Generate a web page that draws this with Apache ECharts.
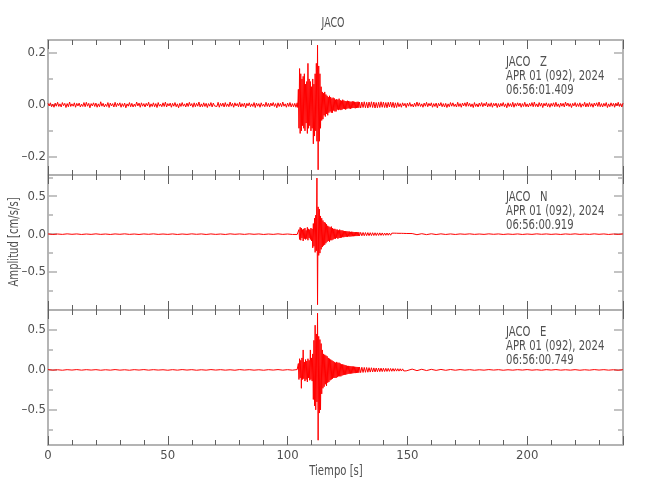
<!DOCTYPE html>
<html><head><meta charset="utf-8">
<script src="https://cdn.jsdelivr.net/npm/echarts@6/dist/echarts.min.js"></script>
<style>html,body{margin:0;padding:0;background:#fff}#c{width:650px;height:500px}</style>
</head><body><div id="c"></div>
<script>
// ---- text ----
const chartTitle = 'JACO';
const station = 'JACO';
const components = ['Z', 'N', 'E'];
const dateLabel = 'APR 01 (092), 2024';
const startTimes = ['06:56:01.409', '06:56:00.919', '06:56:00.749'];
const xName = 'Tiempo [s]';
const yName = 'Amplitud [cm/s/s]';

// ---- axes ----
const xRange = [0, 240];
const xMajorTicks = [0, 50, 100, 150, 200];
const yRangeZ = [-0.27, 0.25];
const yRangeN = [-1.0, 0.78];
const yRangeE = [-0.94, 0.75];
const yMajorZ = [-0.2, 0, 0.2];
const yMajorN = [-0.5, 0, 0.5];
const yMajorE = [-0.5, 0, 0.5];
const yMinorZ = [-0.1, 0.1];
const yMinorN = [-0.75, -0.25, 0.25, 0.75];
const yMinorE = [-0.75, -0.25, 0.25];

// ---- waveform samples (segment start [s], step [s]) ----
// Z component
const zPreStart = 0, zPreStep = 0.5;
const zPre = [0.006,-0.004,0.008,-0.007,0.003,-0.009,0.007,-0.005,0.010,-0.006,0.004,-0.008,0.009,-0.003,0.006,-0.010,
0.005,-0.007,0.011,-0.006,0.004,-0.005,0.008,-0.009,0.006,-0.004,0.007,-0.008,0.003,-0.006,0.009,-0.007,
0.010,-0.005,0.006,-0.011,0.005,-0.004,0.008,-0.006,0.007,-0.009,0.004,-0.007,0.012,-0.005,0.006,-0.008,
0.003,-0.006,0.009,-0.010,0.007,-0.004,0.005,-0.008,0.010,-0.007,0.006,-0.003,0.008,-0.009,0.005,-0.006,
0.007,-0.011,0.004,-0.005,0.009,-0.007,0.006,-0.008,0.003,-0.006,0.011,-0.004,0.007,-0.009,0.008,-0.005,
0.005,-0.008,0.006,-0.004,0.010,-0.009,0.004,-0.006,0.008,-0.007,0.005,-0.010,0.009,-0.005,0.003,-0.007,
0.008,-0.006,0.011,-0.008,0.005,-0.004,0.007,-0.009,0.006,-0.005,0.009,-0.007,0.004,-0.011,0.006,-0.006,
0.009,-0.005,0.004,-0.008,0.007,-0.006,0.010,-0.004,0.005,-0.009,0.008,-0.007,0.006,-0.005,0.011,-0.008,
0.004,-0.007,0.008,-0.006,0.006,-0.010,0.005,-0.005,0.009,-0.008,0.007,-0.004,0.003,-0.006,0.010,-0.009,
0.006,-0.005,0.007,-0.008,0.009,-0.006,0.004,-0.007,0.011,-0.005,0.006,-0.009,0.008,-0.004,0.005,-0.007,
0.010,-0.008,0.005,-0.006,0.007,-0.011,0.006,-0.004,0.008,-0.007,0.004,-0.006,0.009,-0.010,0.007,-0.005,
0.005,-0.009,0.008,-0.005,0.003,-0.007,0.010,-0.006,0.006,-0.008,0.007,-0.004,0.009,-0.006,0.005,-0.011,
0.008,-0.006,0.006,-0.007,0.011,-0.005,0.004,-0.009,0.007,-0.006,0.009,-0.008,0.005,-0.007,0.006,-0.009];
const zEventStart = 104, zEventStep = 0.25;
const zEvent = [0.008,-0.01,0.06,-0.09,0.14,-0.11,0.12,-0.10,0.10,-0.08,
0.11,-0.09,0.12,-0.10,0.08,-0.07,0.09,-0.11,0.16,-0.09,
0.10,-0.08,0.09,-0.10,0.07,-0.09,0.10,-0.15,0.08,-0.12,
0.12,-0.10,0.16,-0.14,0.23,-0.25,0.15,-0.14,0.12,-0.09,
0.07,-0.06,0.05,-0.055,0.045,-0.04,0.05,-0.045,0.04,-0.035,
0.035,-0.04,0.03,-0.03,0.035,-0.025,0.03,-0.03,0.025,-0.03,
0.028,-0.022,0.025,-0.025,0.02,-0.025,0.022,-0.018,0.02,-0.02,
0.024,-0.018,0.018,-0.02,0.016,-0.018,0.02,-0.015,0.017,-0.016,
0.015,-0.018,0.014,-0.015,0.016,-0.013,0.015,-0.014,0.013,-0.015,
0.012,-0.013,0.014,-0.012,0.013,-0.012,0.012,-0.013,0.011,-0.012,
0.012,-0.011,0.012,-0.011,0.011];
const zPostStart = 130.5, zPostStep = 0.5;
const zPost = [-0.012,0.011,-0.010,0.012,-0.011,0.010,-0.012,0.011,-0.009,0.012,-0.010,0.011,-0.012,0.009,-0.011,0.010,
-0.010,0.012,-0.009,0.011,-0.010,0.009,-0.011,0.010,-0.008,0.011,-0.009,0.010,-0.011,0.008,-0.010,0.009,
-0.007,0.005,-0.009,0.008,-0.004,0.006,-0.010,0.007,-0.005,0.009,-0.006,0.003,-0.008,0.007,-0.006,0.011,
-0.005,0.008,-0.006,0.004,-0.009,0.007,-0.005,0.010,-0.007,0.006,-0.004,0.008,-0.009,0.005,-0.006,0.007,
-0.011,0.006,-0.004,0.009,-0.007,0.005,-0.008,0.006,-0.010,0.004,-0.007,0.009,-0.005,0.008,-0.006,0.003,
-0.008,0.010,-0.006,0.005,-0.009,0.007,-0.004,0.008,-0.006,0.011,-0.005,0.006,-0.007,0.004,-0.010,0.009,
-0.006,0.004,-0.008,0.007,-0.005,0.009,-0.007,0.006,-0.004,0.010,-0.008,0.005,-0.006,0.008,-0.009,0.006,
-0.004,0.007,-0.010,0.005,-0.008,0.006,-0.005,0.009,-0.007,0.004,-0.011,0.008,-0.006,0.005,-0.007,0.010,
-0.009,0.006,-0.005,0.008,-0.004,0.007,-0.009,0.005,-0.006,0.010,-0.007,0.004,-0.008,0.006,-0.005,0.009,
-0.007,0.011,-0.006,0.004,-0.008,0.009,-0.005,0.007,-0.010,0.006,-0.004,0.008,-0.007,0.005,-0.009,0.006,
-0.005,0.008,-0.007,0.010,-0.006,0.004,-0.009,0.007,-0.005,0.006,-0.008,0.011,-0.004,0.007,-0.006,0.005,
-0.010,0.006,-0.004,0.009,-0.007,0.005,-0.006,0.008,-0.009,0.004,-0.005,0.010,-0.008,0.006,-0.007,0.009,
-0.006,0.005,-0.009,0.007,-0.004,0.008,-0.006,0.011,-0.007,0.005,-0.008,0.006,-0.005,0.009,-0.010,0.004,
-0.007,0.008,-0.005,0.006,-0.009,0.007,-0.004,0.010,-0.006,0.005,-0.008,0.007];

// N component
const nPreStart = 0, nPreStep = 2;
const nPre = [0.003,-0.004,0.002,-0.003,0.004,-0.002,0.003,-0.004,0.002,-0.003,
0.004,-0.003,0.002,-0.004,0.003,-0.002,0.004,-0.003,0.002,-0.004,
0.003,-0.002,0.004,-0.003,0.002,-0.003,0.003,-0.004,0.002,-0.003,
0.004,-0.002,0.003,-0.004,0.003,-0.003,0.002,-0.004,0.004,-0.002,
0.003,-0.003,0.004,-0.002,0.003,-0.004,0.002,-0.003,0.004,-0.003,
0.002,-0.004];
const nEventStart = 104, nEventStep = 0.25;
const nEvent = [-0.004,0.005,-0.03,0.06,-0.07,0.09,-0.08,0.08,-0.05,0.06,
-0.09,0.07,-0.06,0.08,-0.07,0.05,-0.06,0.09,-0.08,0.07,
-0.05,0.06,-0.07,0.08,-0.09,0.07,-0.18,0.14,-0.16,0.21,
-0.24,0.25,-0.22,0.74,-0.93,0.36,-0.28,0.33,-0.25,0.24,
-0.20,0.21,-0.17,0.18,-0.15,0.16,-0.14,0.15,-0.12,0.13,
-0.10,0.11,-0.09,0.10,-0.10,0.09,-0.08,0.10,-0.08,0.08,
-0.07,0.07,-0.06,0.07,-0.06,0.06,-0.05,0.06,-0.06,0.05,
-0.05,0.06,-0.05,0.05,-0.045,0.05,-0.04,0.045,-0.04,0.04,
-0.035,0.04,-0.035,0.038,-0.035,0.035,-0.03,0.035,-0.032,0.03,
-0.03,0.032,-0.028,0.03,-0.027,0.028,-0.026,0.028,-0.025,0.026,
-0.025,0.025,-0.024,0.025,-0.023];
const nCodaStart = 130.5, nCodaStep = 0.5;
const nCoda = [0.023,-0.022,0.022,-0.021,0.021,-0.02,0.02,-0.02,0.019,-0.019,
0.019,-0.018,0.018,-0.018,0.017,-0.017,0.017,-0.016,0.016,-0.016,
0.015,-0.015,0.015,-0.014,0.014,-0.014,0.013,-0.013,0.013,-0.012,
0.012,-0.012,0.011,-0.011,0.011,-0.01,0.01,-0.01,0.009,-0.009];
const nPostStart = 152, nPostStep = 2;
const nPost = [0.008,-0.007,0.006,-0.006,0.005,-0.005,0.004,-0.004,0.003,-0.004,
0.003,-0.002,0.004,-0.003,0.002,-0.003,0.004,-0.002,0.003,-0.004,
0.002,-0.003,0.003,-0.004,0.002,-0.003,0.004,-0.002,0.003,-0.003,
0.002,-0.004,0.003,-0.002,0.004,-0.003,0.002,-0.003,0.004,-0.002,
0.003,-0.004,0.002,-0.003,0.003];

// E component
const ePreStart = 0, ePreStep = 2;
const ePre = [0.004,-0.003,0.002,-0.004,0.003,-0.002,0.004,-0.003,0.003,-0.002,
0.003,-0.004,0.002,-0.003,0.004,-0.003,0.002,-0.004,0.003,-0.002,
0.004,-0.003,0.003,-0.002,0.002,-0.004,0.003,-0.003,0.004,-0.002,
0.003,-0.004,0.002,-0.003,0.004,-0.002,0.003,-0.003,0.002,-0.004,
0.004,-0.002,0.003,-0.003,0.002,-0.004,0.003,-0.002,0.004,-0.003,
0.003,-0.003];
const eEventStart = 104, eEventStep = 0.25;
const eEvent = [0.004,-0.006,0.08,-0.12,0.14,-0.10,0.12,-0.23,0.15,-0.12,
0.25,-0.11,0.10,-0.14,0.13,-0.12,0.11,-0.15,0.14,-0.10,
0.12,-0.13,0.25,-0.12,0.15,-0.14,0.20,-0.37,0.37,-0.45,
0.56,-0.50,0.45,-0.40,0.71,-0.88,0.42,-0.54,0.38,-0.50,
0.33,-0.30,0.25,-0.23,0.20,-0.21,0.19,-0.18,0.18,-0.20,
0.17,-0.16,0.15,-0.15,0.14,-0.13,0.13,-0.12,0.12,-0.11,
0.11,-0.10,0.10,-0.10,0.09,-0.10,0.10,-0.09,0.09,-0.08,
0.09,-0.08,0.08,-0.08,0.07,-0.07,0.07,-0.065,0.065,-0.06,
0.06,-0.06,0.055,-0.055,0.05,-0.05,0.05,-0.048,0.048,-0.046,
0.045,-0.045,0.044,-0.042,0.042,-0.04,0.04,-0.04,0.038,-0.038,
0.037,-0.036,0.036,-0.035,0.035];
const eCodaStart = 130.5, eCodaStep = 0.5;
const eCoda = [-0.034,0.033,-0.032,0.031,-0.03,0.03,-0.029,0.028,-0.027,0.027,
-0.026,0.025,-0.025,0.024,-0.023,0.023,-0.022,0.022,-0.021,0.021,
-0.02,0.02,-0.019,0.019,-0.018,0.018,-0.017,0.017,-0.016,0.016,
-0.015,0.015,-0.015,0.014,-0.014,0.013,-0.013,0.012,-0.012,0.012];
const ePostStart = 152, ePostStep = 2;
const ePost = [0.010,-0.009,0.008,-0.008,0.007,-0.006,0.006,-0.005,0.005,-0.004,
0.004,-0.003,0.003,-0.004,0.002,-0.003,0.004,-0.002,0.003,-0.004,
0.002,-0.003,0.003,-0.002,0.004,-0.003,0.002,-0.004,0.003,-0.002,
0.004,-0.003,0.002,-0.003,0.003,-0.004,0.002,-0.003,0.004,-0.002,
0.003,-0.003,0.002,-0.004,0.003];

// ---- build ----
function seg(start, step, vals) { return vals.map((v, i) => [start + i * step, v]); }
const panels = [
  { data: [].concat(seg(zPreStart, zPreStep, zPre), seg(zEventStart, zEventStep, zEvent), seg(zPostStart, zPostStep, zPost)),
    range: yRangeZ, major: yMajorZ, minor: yMinorZ },
  { data: [].concat(seg(nPreStart, nPreStep, nPre), seg(nEventStart, nEventStep, nEvent), seg(nCodaStart, nCodaStep, nCoda), seg(nPostStart, nPostStep, nPost)),
    range: yRangeN, major: yMajorN, minor: yMinorN },
  { data: [].concat(seg(ePreStart, ePreStep, ePre), seg(eEventStart, eEventStep, eEvent), seg(eCodaStart, eCodaStep, eCoda), seg(ePostStart, ePostStep, ePost)),
    range: yRangeE, major: yMajorE, minor: yMinorE }
];

const FONT = "'DejaVu Sans Condensed','DejaVu Sans',sans-serif";
const TXT = '#505050';
const FRAME = '#b0b0b0';
const TICK = '#606060';
const SX = 0.8;
const left = 48, right = 27, top0 = 40, ph = 135;

const grid = [], xAxis = [], yAxis = [], series = [], graphic = [];
const fmtY = v => (v < 0 ? '\u2013' : '') + Math.abs(v).toFixed(1);

panels.forEach((p, i) => {
  const top = top0 + i * ph;
  grid.push({ left: left, right: right, top: top, height: ph, show: false });
  const xBase = { type: 'value', gridIndex: i, min: xRange[0], max: xRange[1], splitLine: { show: false },
    axisLine: { show: true, onZero: false, lineStyle: { color: FRAME, width: 1.5 } } };
  const xMainIdx = xAxis.length;
  xAxis.push(Object.assign({}, xBase, { position: 'bottom', interval: 50,
    axisTick: { show: true, inside: true, length: 9, lineStyle: { color: TICK } },
    axisLabel: { show: i === 2, margin: 4, color: TXT, fontFamily: FONT, fontSize: 13,
      formatter: v => (xMajorTicks.indexOf(v) >= 0 ? String(v) : '') } }));
  xAxis.push(Object.assign({}, xBase, { position: 'bottom', interval: 10,
    axisTick: { show: true, inside: true, length: 5, lineStyle: { color: TICK } }, axisLabel: { show: false } }));
  xAxis.push(Object.assign({}, xBase, { position: 'top', interval: 50,
    axisTick: { show: true, inside: true, length: 9, lineStyle: { color: TICK } }, axisLabel: { show: false } }));
  xAxis.push(Object.assign({}, xBase, { position: 'top', interval: 10,
    axisTick: { show: true, inside: true, length: 5, lineStyle: { color: TICK } }, axisLabel: { show: false } }));

  const yBase = { type: 'value', gridIndex: i, min: p.range[0], max: p.range[1], splitLine: { show: false },
    axisLine: { show: true, onZero: false, lineStyle: { color: FRAME, width: 1.5 } } };
  const yMainIdx = yAxis.length;
  yAxis.push(Object.assign({}, yBase, { position: 'left',
    axisTick: { show: true, inside: true, length: 9, customValues: p.major, lineStyle: { color: FRAME, width: 1.5 } },
    axisLabel: { show: true, margin: 2, customValues: p.major, color: TXT, fontFamily: FONT, fontSize: 13, formatter: fmtY } }));
  yAxis.push(Object.assign({}, yBase, { position: 'left',
    axisTick: { show: true, inside: true, length: 5, customValues: p.minor, lineStyle: { color: FRAME, width: 1.5 } },
    axisLabel: { show: false } }));
  yAxis.push(Object.assign({}, yBase, { position: 'right',
    axisTick: { show: true, inside: true, length: 9, customValues: p.major, lineStyle: { color: FRAME, width: 1.5 } },
    axisLabel: { show: false } }));
  yAxis.push(Object.assign({}, yBase, { position: 'right',
    axisTick: { show: true, inside: true, length: 5, customValues: p.minor, lineStyle: { color: FRAME, width: 1.5 } },
    axisLabel: { show: false } }));

  series.push({ type: 'line', xAxisIndex: xMainIdx, yAxisIndex: yMainIdx, data: p.data,
    showSymbol: false, symbol: 'none', sampling: null, clip: true, z: 5,
    lineStyle: { color: '#ff0000', width: 1 } });

  const lines = [station + '   ' + components[i], dateLabel, startTimes[i]];
  [22, 36, 50].forEach((dy, k) => {
    graphic.push({ type: 'text', x: 506, y: top + dy, scaleX: SX,
      style: { text: lines[k], fill: TXT, font: '14px ' + FONT, textAlign: 'left', textVerticalAlign: 'middle', verticalAlign: 'middle' } });
  });
});

graphic.push({ type: 'text', x: 333, y: 23, scaleX: 0.75,
  style: { text: chartTitle, fill: TXT, font: '14px ' + FONT, textAlign: 'center', align: 'center', verticalAlign: 'middle', textVerticalAlign: 'middle' } });
graphic.push({ type: 'text', x: 336, y: 471, scaleX: SX,
  style: { text: xName, fill: TXT, font: '14px ' + FONT, textAlign: 'center', align: 'center', verticalAlign: 'middle', textVerticalAlign: 'middle' } });
graphic.push({ type: 'text', x: 14, y: 242, rotation: Math.PI / 2, scaleX: SX,
  style: { text: yName, fill: TXT, font: '14px ' + FONT, textAlign: 'center', align: 'center', verticalAlign: 'middle', textVerticalAlign: 'middle' } });

const chart = echarts.init(document.getElementById('c'), null, { renderer: 'canvas' });
chart.setOption({ animation: false, backgroundColor: '#fff', grid, xAxis, yAxis, series, graphic });
</script></body></html>
